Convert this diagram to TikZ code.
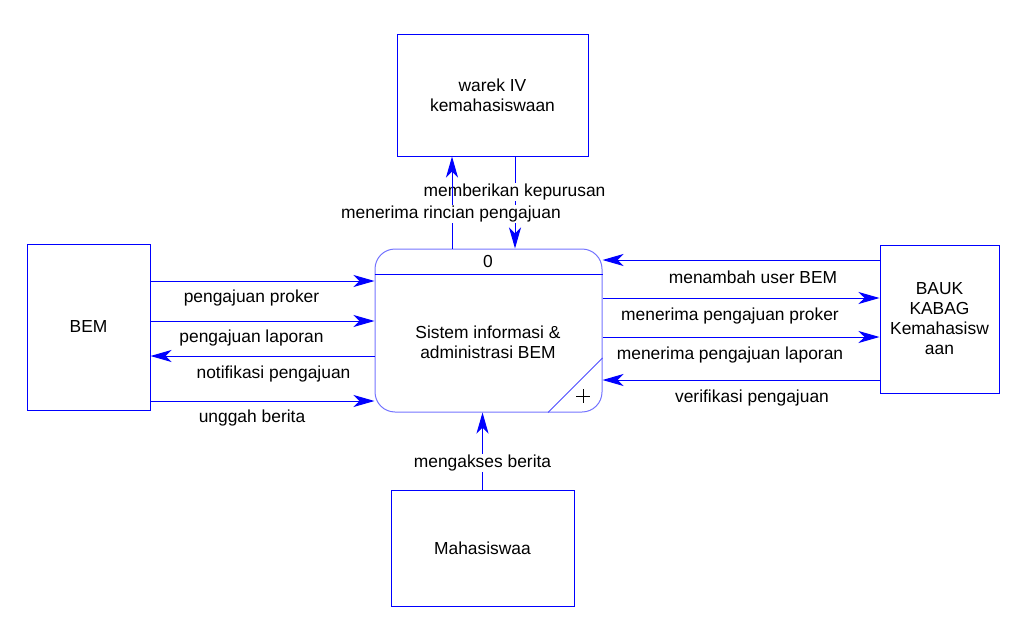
\documentclass[tikz,border=0pt]{standalone}
\usepackage{fontspec}
\setmainfont{Liberation Sans}
\usetikzlibrary{arrows.meta}

\tikzset{
  entity/.style={draw=blue, line width=1pt, fill=white, inner sep=0pt, align=center},
  flow/.style={-{Stealth[length=21pt, width=12pt, inset=6pt]}, blue, line width=1pt},
  flowtext/.style={inner sep=1pt},
  cutout/.style={fill=white, inner sep=1pt}
}

\begin{document}
\begin{tikzpicture}[x=1pt, y=-1pt, font=\fontsize{17.4}{20}\selectfont]

  \useasboundingbox (0,0) rectangle (1030,634);

  % External entities
  \node[entity, minimum width=191, minimum height=121] (warek) at (492.5,95.5)
    {warek IV\\kemahasiswaan};
  \node[entity, minimum width=123, minimum height=166] (bem) at (88.5,327) {BEM};
  \node[entity, minimum width=119, minimum height=148] (bauk) at (939.5,319)
    {BAUK\\KABAG\\Kemahasisw\\aan};
  \node[entity, minimum width=183, minimum height=116] (mhs) at (482.5,548) {Mahasiswaa};

  % Process 0
  \node[draw=blue!55, line width=1pt, rounded corners=20, minimum width=227,
        minimum height=163, inner sep=0pt] (process) at (488.5,330.5) {};
  \draw[blue, line width=1pt] (process.west |- 0,274) -- (process.east |- 0,274);
  \draw[blue!70, line width=0.8pt] (process.south -| 548,0) -- (process.east |- 0,358);
  \node (pnum) at (488,262) {0};
  \node[align=center] (ptext) at (488,342) {Sistem informasi \&\\administrasi BEM};
  \draw[line width=0.6pt] (576,396) -- (590,396) (583,389) -- (583,403);

  % BEM flows
  \draw[flow] (bem.east |- 0,281) -- (process.west |- 0,281);
  \draw[flow] (bem.east |- 0,321) -- (process.west |- 0,321);
  \draw[flow] (process.west |- 0,356) -- (bem.east |- 0,356);
  \draw[flow] (bem.east |- 0,401) -- (process.west |- 0,401);
  \node[flowtext] (l1) at (251.5,298) {pengajuan proker};
  \node[flowtext] (l2) at (251.5,338) {pengajuan laporan};
  \node[flowtext] (l3) at (273.5,374) {notifikasi pengajuan};
  \node[flowtext] (l4) at (252,418) {unggah berita};

  % BAUK flows
  \draw[flow] (bauk.west |- 0,260) -- (process.east |- 0,260);
  \draw[flow] (process.east |- 0,298) -- (bauk.west |- 0,298);
  \draw[flow] (process.east |- 0,337) -- (bauk.west |- 0,337);
  \draw[flow] (bauk.west |- 0,380) -- (process.east |- 0,380);
  \node[flowtext] (r1) at (753,277) {menambah user BEM};
  \node[flowtext] (r2) at (730,316) {menerima pengajuan proker};
  \node[flowtext] (r3) at (730,355) {menerima pengajuan laporan};
  \node[flowtext] (r4) at (752,398) {verifikasi pengajuan};

  % Warek flows
  \draw[flow] (warek.south -| 515,0) -- (process.north -| 515,0);
  \node[cutout] (t1) at (514.5,192) {memberikan kepurusan};
  \draw[flow] (process.north -| 452,0) -- (warek.south -| 452,0);
  \node[cutout] (t2) at (451,214) {menerima rincian pengajuan};

  % Mahasiswa flow
  \draw[flow] (mhs.north) -- (process.south -| mhs.north);
  \node[cutout] (b1) at (482.5,463) {mengakses berita};

\end{tikzpicture}
\end{document}
